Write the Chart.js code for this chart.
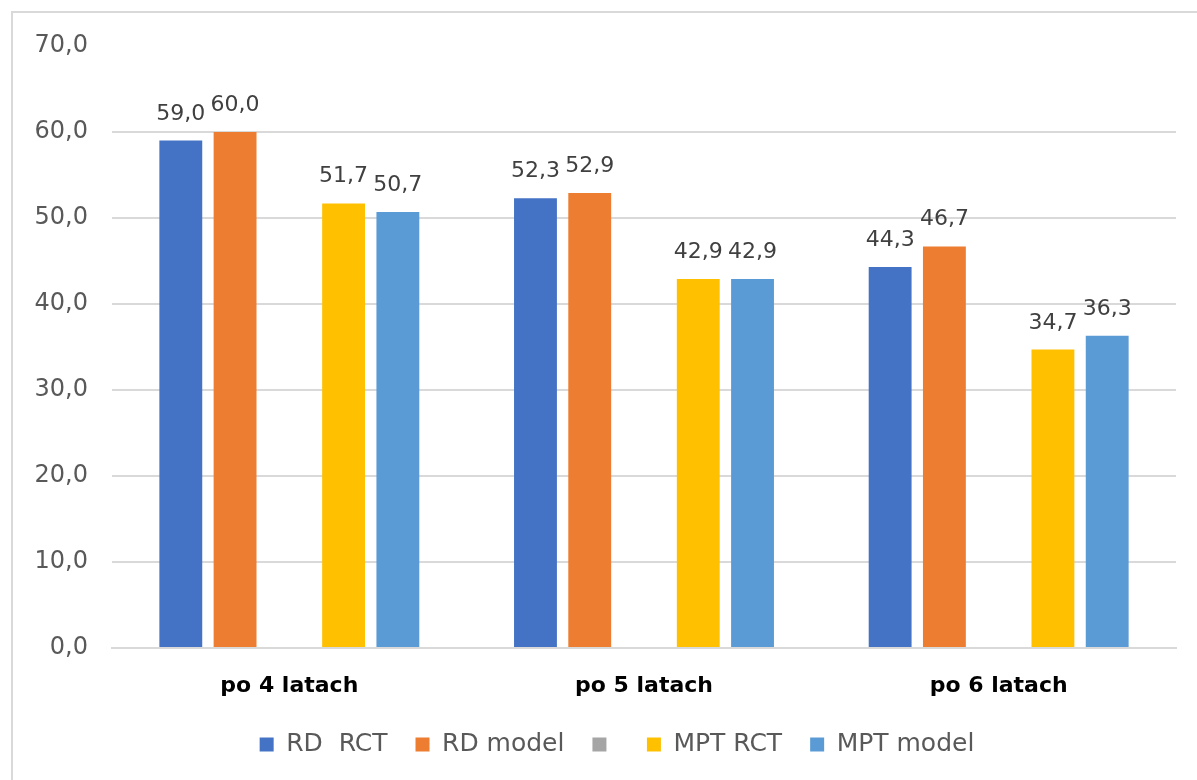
<!DOCTYPE html>
<html>
<head>
<meta charset="utf-8">
<script src="https://cdn.jsdelivr.net/npm/chart.js@4/dist/chart.umd.min.js"></script>
<style>
  html, body { margin: 0; padding: 0; background: #ffffff; overflow: hidden; }
  #frame { position: absolute; left: 11px; top: 11px; width: 1300px; height: 900px; border: 2px solid #D9D9D9; box-sizing: border-box; }
  #wrap { position: absolute; left: 0; top: 0; width: 1197px; height: 780px; }
</style>
</head>
<body>
<div id="frame"></div>
<div id="wrap"><canvas id="c"></canvas></div>
<script>
const categories = ['po 4 latach', 'po 5 latach', 'po 6 latach'];
const seriesNames = ['RD  RCT', 'RD model', '', 'MPT RCT', 'MPT model'];
const rdRct = [59.0, 52.3, 44.3];
const rdModel = [60.0, 52.9, 46.7];
const emptySeries = [null, null, null];
const mptRct = [51.7, 42.9, 34.7];
const mptModel = [50.7, 42.9, 36.3];
const yTicks = [0, 10, 20, 30, 40, 50, 60, 70];

const colors = ['#4472C4', '#ED7D31', '#A5A5A5', '#FFC000', '#5B9BD5'];
const seriesData = [rdRct, rdModel, emptySeries, mptRct, mptModel];

const fmt = v => Number(v).toFixed(1).replace('.', ',');
const FONT = "'DejaVu Sans', sans-serif";

const dataLabels = {
  id: 'dataLabels',
  afterDatasetsDraw(chart) {
    const ctx = chart.ctx;
    ctx.save();
    ctx.font = "22px " + FONT;
    ctx.fillStyle = '#404040';
    ctx.textAlign = 'center';
    ctx.textBaseline = 'alphabetic';
    chart.data.datasets.forEach((ds, i) => {
      const meta = chart.getDatasetMeta(i);
      meta.data.forEach((bar, j) => {
        const v = ds.data[j];
        if (v === null || v === undefined) return;
        ctx.fillText(fmt(v), bar.x, bar.y - 21);
      });
    });
    ctx.restore();
  }
};

new Chart(document.getElementById('c'), {
  type: 'bar',
  data: {
    labels: categories,
    datasets: seriesNames.map((name, i) => ({
      label: name,
      data: seriesData[i],
      backgroundColor: colors[i],
      borderWidth: 0,
      categoryPercentage: 0.765,
      barPercentage: 0.79
    }))
  },
  options: {
    responsive: true,
    maintainAspectRatio: false,
    animation: false,
    layout: { padding: { left: 0, right: -37, top: 46, bottom: 16 } },
    plugins: {
      tooltip: { enabled: false },
      legend: {
        position: 'bottom',
        maxHeight: 60,
        labels: {
          boxWidth: 14,
          boxHeight: 14,
          padding: 28,
          color: '#595959',
          font: { family: FONT, size: 25 }
        }
      }
    },
    scales: {
      x: {
        grid: { display: false, drawTicks: false },
        border: { display: true, color: '#D9D9D9', width: 2 },
        ticks: {
          color: '#000000',
          padding: 25,
          font: { family: FONT, size: 22, weight: 'bold' }
        },
        afterFit(scale) { scale.height = 56; }
      },
      y: {
        min: 0,
        max: 70,
        afterBuildTicks(scale) { scale.ticks = yTicks.map(v => ({ value: v })); },
        grid: {
          drawTicks: false,
          lineWidth: 2,
          color: c => (c.tick && c.tick.value === 70) ? 'rgba(0,0,0,0)' : '#D9D9D9'
        },
        border: { display: false },
        ticks: {
          color: '#595959',
          padding: 24,
          font: { family: FONT, size: 24 },
          callback: v => fmt(v)
        },
        afterFit(scale) { scale.width = 112; }
      },
      yR: {
        type: 'linear',
        position: 'right',
        display: true,
        grid: { display: false, drawTicks: false },
        border: { display: false },
        ticks: { display: false },
        afterFit(scale) { scale.width = 58; }
      }
    }
  },
  plugins: [dataLabels]
});
</script>
</body>
</html>
